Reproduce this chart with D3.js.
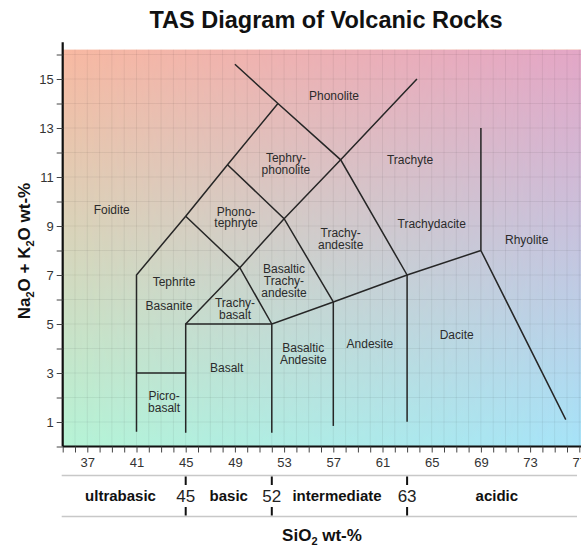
<!DOCTYPE html>
<html>
<head>
<meta charset="utf-8">
<script src="https://cdn.jsdelivr.net/npm/d3@7"></script>
<style>
  html, body { margin: 0; padding: 0; background: #fff; overflow: hidden; }
  svg { display: block; font-family: "Liberation Sans", Arial, sans-serif; }
</style>
</head>
<body>
<svg id="chart" width="581" height="546"></svg>
<script>
// ---------- DATA ----------
const chartTitle = "TAS Diagram of Volcanic Rocks";

// Field boundary polylines, in (SiO2 wt-%, Na2O+K2O wt-%)
const boundaryLines = [
  [[41, 0.6], [41, 7], [45, 9.4], [48.4, 11.5], [52.5, 14]],
  [[49, 15.6], [52.5, 14], [57.6, 11.7], [63, 7]],
  [[41, 3], [45, 3]],
  [[45, 0.56], [45, 5], [52, 5]],
  [[52, 0.56], [52, 5], [57, 5.9], [63, 7], [69, 8]],
  [[57, 0.84], [57, 5.9]],
  [[63, 1.01], [63, 7]],
  [[69, 13], [69, 8], [75.9, 1.1]],
  [[45, 5], [49.4, 7.3], [53, 9.3], [57.6, 11.7], [63.8, 15]],
  [[45, 9.4], [49.4, 7.3], [52, 5]],
  [[48.4, 11.5], [53, 9.3], [57, 5.9]]
];

// Rock field names and label centres
const rockNames = ["Phonolite", "Tephry-\nphonolite", "Trachyte", "Phono-\ntephryte",
  "Trachy-\nandesite", "Trachydacite", "Rhyolite", "Foidite", "Tephrite", "Basanite",
  "Trachy-\nbasalt", "Basaltic\nTrachy-\nandesite", "Basaltic\nAndesite", "Andesite",
  "Basalt", "Picro-\nbasalt", "Dacite"];
const rockLabelX = [57.06, 53.15, 63.24, 49.09, 57.6, 65.0, 72.72, 38.98, 44.05, 43.64,
  49.01, 52.99, 54.56, 59.98, 48.33, 43.24, 67.03];
const rockLabelY = [14.31, 11.54, 11.69, 9.35, 8.46, 9.08, 8.43, 9.65, 6.70, 5.73,
  5.60, 6.76, 3.77, 4.17, 3.19, 1.82, 4.55];

// Axis ticks
const xTickLabels = [37, 41, 45, 49, 53, 57, 61, 65, 69, 73, 77];
const yTickLabels = [1, 3, 5, 7, 9, 11, 13, 15];

// Silica classes
const classBoundaries = [45, 52, 63];
const classNames = ["ultrabasic", "basic", "intermediate", "acidic"];
const classLabelX = [39.7, 48.5, 57.3, 70.3];

// ---------- LAYOUT ----------
const svg = d3.select("#chart");
const W = 581, H = 546;
const x = d3.scaleLinear().domain([35, 77]).range([62.7, 579.3]);
const y = d3.scaleLinear().domain([0, 16]).range([446.5, 54.5]);
const xMax = x.invert(W);
const yTop = 16.2;

// ---------- BACKGROUND GRADIENT (bilinear) ----------
const defs = svg.append("defs");
const gL = defs.append("linearGradient").attr("id", "gl").attr("x1", 0).attr("y1", 0).attr("x2", 0).attr("y2", 1);
gL.append("stop").attr("offset", "0%").attr("stop-color", "#f8b9a2");
gL.append("stop").attr("offset", "100%").attr("stop-color", "#b6f4d6");
const gR = defs.append("linearGradient").attr("id", "gr").attr("x1", 0).attr("y1", 0).attr("x2", 0).attr("y2", 1);
gR.append("stop").attr("offset", "0%").attr("stop-color", "#e3a6c6");
gR.append("stop").attr("offset", "100%").attr("stop-color", "#a6e3f8");
const gM = defs.append("linearGradient").attr("id", "gm").attr("x1", 0).attr("y1", 0).attr("x2", 1).attr("y2", 0);
gM.append("stop").attr("offset", "0%").attr("stop-color", "#fff").attr("stop-opacity", 0);
gM.append("stop").attr("offset", "100%").attr("stop-color", "#fff").attr("stop-opacity", 1);
const mask = defs.append("mask").attr("id", "mk").attr("maskContentUnits", "userSpaceOnUse");
const bx = x(35), by = y(yTop), bw = W - x(35), bh = y(0) - y(yTop);
mask.append("rect").attr("x", bx).attr("y", by).attr("width", bw).attr("height", bh).attr("fill", "url(#gm)");

svg.append("rect").attr("x", bx).attr("y", by).attr("width", bw).attr("height", bh).attr("fill", "url(#gl)");
svg.append("rect").attr("x", bx).attr("y", by).attr("width", bw).attr("height", bh).attr("fill", "url(#gr)").attr("mask", "url(#mk)");

// ---------- GRID ----------
const grid = svg.append("g").attr("stroke", "#000").attr("stroke-opacity", 0.06).attr("stroke-width", 1);
grid.selectAll("line.v").data(d3.range(36, Math.floor(xMax) + 1)).join("line")
  .attr("x1", d => x(d)).attr("x2", d => x(d)).attr("y1", y(0)).attr("y2", y(yTop));
grid.selectAll("line.h").data(d3.range(1, 17)).join("line")
  .attr("y1", d => y(d)).attr("y2", d => y(d)).attr("x1", x(35)).attr("x2", W);

// ---------- BOUNDARIES ----------
const line = d3.line().x(d => x(d[0])).y(d => y(d[1]));
svg.append("g").selectAll("path").data(boundaryLines).join("path")
  .attr("d", line).attr("fill", "none").attr("stroke", "#262626").attr("stroke-width", 1.5)
  .attr("stroke-linejoin", "miter");

// ---------- FIELD LABELS ----------
const lab = svg.append("g").attr("font-size", 12).attr("fill", "#2b2b2b").attr("text-anchor", "middle");
rockNames.forEach((name, i) => {
  const lines = name.split("\n");
  const lh = 11.8;
  lines.forEach((s, j) => {
    lab.append("text").attr("x", x(rockLabelX[i]))
      .attr("y", y(rockLabelY[i]) - (lines.length - 1) * lh / 2 + j * lh + 4).text(s);
  });
});

// ---------- AXES ----------
const xAxis = d3.axisBottom(x).tickValues(d3.range(35, 78)).tickSize(6).tickFormat(d => xTickLabels.includes(d) ? d : "");
const gx = svg.append("g").attr("transform", `translate(0,${y(0)})`).call(xAxis);
gx.select(".domain").attr("d", `M${x(35)},0H${W}`).attr("stroke", "#111").attr("stroke-width", 2.2);
gx.selectAll(".tick line").attr("stroke", "#444").attr("stroke-width", 1);
gx.selectAll(".tick text").attr("font-size", 13).attr("fill", "#333").attr("dy", "0.9em")
  .attr("font-family", "Liberation Sans, Arial, sans-serif");

const yAxis = d3.axisLeft(y).tickValues(d3.range(0, 17)).tickSize(6).tickFormat(d => yTickLabels.includes(d) ? d : "");
const gy = svg.append("g").attr("transform", `translate(${x(35)},0)`).call(yAxis);
gy.select(".domain").attr("d", `M0,${y(0)}V${y(16.5)}`).attr("stroke", "#111").attr("stroke-width", 2.2);
gy.selectAll(".tick line").attr("stroke", "#444").attr("stroke-width", 1);
gy.selectAll(".tick text").attr("font-size", 13).attr("fill", "#333").attr("x", -9)
  .attr("font-family", "Liberation Sans, Arial, sans-serif");

// ---------- SILICA CLASS BAND ----------
const band = svg.append("g");
band.append("line").attr("x1", x(35) - 1).attr("x2", W - 4).attr("y1", 475.5).attr("y2", 475.5)
  .attr("stroke", "#c8c8c8").attr("stroke-width", 1.5);
band.append("line").attr("x1", x(35) - 1).attr("x2", W - 4).attr("y1", 516.5).attr("y2", 516.5)
  .attr("stroke", "#c8c8c8").attr("stroke-width", 1.5);
classBoundaries.forEach(b => {
  band.append("line").attr("x1", x(b)).attr("x2", x(b)).attr("y1", 476.5).attr("y2", 485)
    .attr("stroke", "#111").attr("stroke-width", 2);
  band.append("line").attr("x1", x(b)).attr("x2", x(b)).attr("y1", 507).attr("y2", 515.5)
    .attr("stroke", "#111").attr("stroke-width", 2);
  band.append("text").attr("x", x(b)).attr("y", 502).attr("text-anchor", "middle")
    .attr("font-size", 17).attr("fill", "#222").text(b);
});
classNames.forEach((c, i) => {
  band.append("text").attr("x", x(classLabelX[i])).attr("y", 501).attr("text-anchor", "middle")
    .attr("font-size", 15).attr("font-weight", "bold").attr("fill", "#111").text(c);
});

// ---------- TITLES ----------
svg.append("text").attr("x", 326).attr("y", 28).attr("text-anchor", "middle")
  .attr("font-size", 23.5).attr("font-weight", "bold").attr("fill", "#111").text(chartTitle);

const xt = svg.append("text").attr("x", 322).attr("y", 541).attr("text-anchor", "middle")
  .attr("font-size", 17).attr("font-weight", "bold").attr("fill", "#111");
xt.append("tspan").text("SiO");
xt.append("tspan").attr("font-size", 11).attr("dy", 4).text("2");
xt.append("tspan").attr("dy", -4).text(" wt-%");

const yt = svg.append("text").attr("transform", "translate(30,251) rotate(-90)").attr("text-anchor", "middle")
  .attr("font-size", 17).attr("font-weight", "bold").attr("fill", "#111");
yt.append("tspan").text("Na");
yt.append("tspan").attr("font-size", 11).attr("dy", 4).text("2");
yt.append("tspan").attr("dy", -4).text("O + K");
yt.append("tspan").attr("font-size", 11).attr("dy", 4).text("2");
yt.append("tspan").attr("dy", -4).text("O wt-%");
</script>
</body>
</html>
